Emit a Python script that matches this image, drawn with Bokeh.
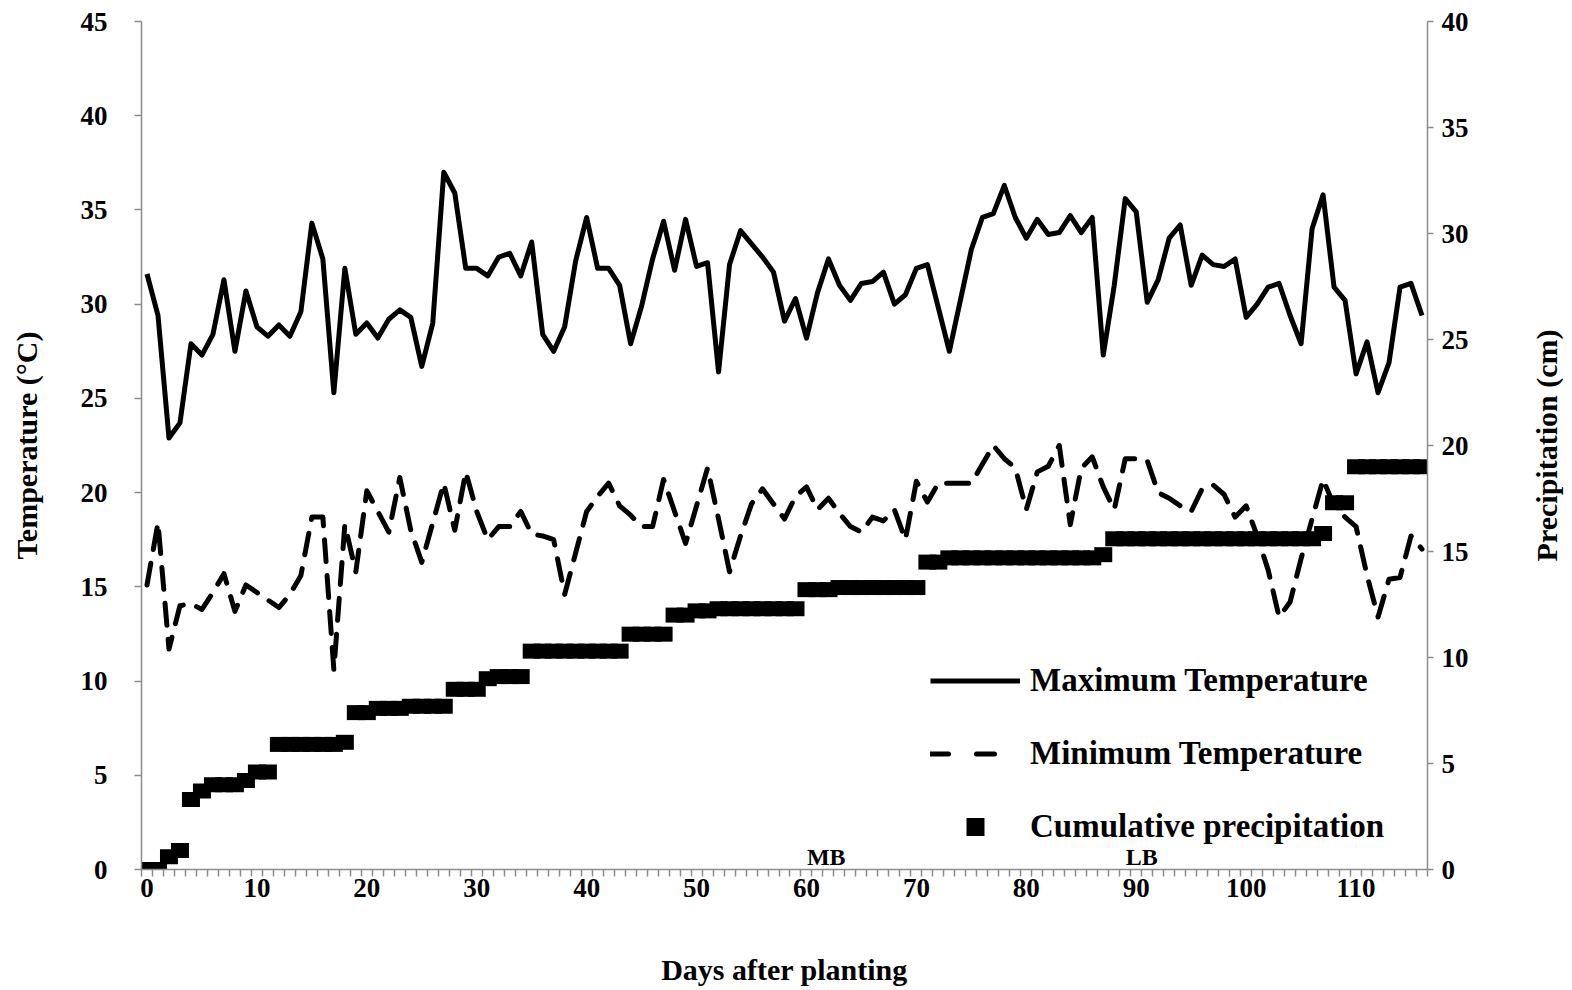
from bokeh.plotting import figure
from bokeh.layouts import row
from bokeh.models import (Range1d, LinearAxis, FixedTicker, Legend, LegendItem,
                          ColumnDataSource, Title)
from bokeh.core.properties import value
from bokeh.embed import file_html
from bokeh.resources import INLINE

# ---------------- data ----------------
days = list(range(117))

max_temp = [31.6, 29.4, 22.9, 23.7, 27.9, 27.3, 28.4, 31.3, 27.5, 30.7,
            28.8, 28.3, 28.9, 28.3, 29.6, 34.3, 32.4, 25.3, 31.9, 28.4,
            29.0, 28.2, 29.2, 29.7, 29.3, 26.7, 29.0, 37.0, 35.9, 31.9,
            31.9, 31.5, 32.5, 32.7, 31.5, 33.3, 28.4, 27.5, 28.8, 32.3,
            34.6, 31.9, 31.9, 31.0, 27.9, 29.9, 32.4, 34.4, 31.8, 34.5,
            32.0, 32.2, 26.4, 32.1, 33.9, 33.2, 32.5, 31.7, 29.1, 30.3,
            28.2, 30.6, 32.4, 31.0, 30.2, 31.1, 31.2, 31.7, 30.0, 30.5,
            31.9, 32.1, 29.8, 27.5, 30.2, 32.9, 34.6, 34.8, 36.3, 34.6,
            33.5, 34.5, 33.7, 33.8, 34.7, 33.8, 34.6, 27.3, 31.0, 35.6,
            34.9, 30.1, 31.3, 33.5, 34.2, 31.0, 32.6, 32.1, 32.0, 32.4,
            29.3, 30.0, 30.9, 31.1, 29.4, 27.9, 34.0, 35.8, 30.9, 30.2,
            26.3, 28.0, 25.3, 26.9, 30.9, 31.1, 29.4]

min_temp = [15.1, 18.4, 11.7, 14.0, 14.1, 13.8, 14.7, 15.7, 13.7, 15.1,
            14.7, 14.3, 13.9, 14.6, 15.6, 18.7, 18.7, 10.6, 18.3, 15.8,
            20.1, 19.0, 17.9, 20.8, 18.0, 16.3, 18.4, 20.5, 18.0, 21.1,
            19.0, 17.5, 18.2, 18.2, 19.0, 17.8, 17.7, 17.5, 14.6, 16.8,
            19.0, 19.8, 20.5, 19.3, 18.8, 18.2, 18.2, 20.7, 19.0, 17.3,
            19.3, 21.3, 18.6, 15.8, 17.7, 19.4, 20.2, 19.4, 18.6, 19.8,
            20.3, 19.1, 19.7, 18.9, 18.2, 17.9, 18.7, 18.5, 19.1, 17.5,
            20.6, 19.5, 20.5, 20.5, 20.5, 20.5, 21.5, 22.5, 21.8, 21.3,
            19.1, 21.1, 21.4, 22.5, 18.3, 21.3, 21.9, 20.3, 19.1, 21.8,
            21.8, 21.7, 20.0, 19.7, 19.3, 19.0, 20.2, 20.4, 19.9, 18.7,
            19.3, 17.7, 15.9, 13.4, 14.2, 16.5, 18.6, 20.7, 19.3, 18.7,
            18.2, 15.6, 13.4, 15.4, 15.5, 17.7, 17.0]

cum_precip = [0.0, 0.0, 0.6, 0.9, 3.3, 3.7, 4.0, 4.0, 4.0, 4.2,
              4.6, 4.6, 5.9, 5.9, 5.9, 5.9, 5.9, 5.9, 6.0, 7.4,
              7.4, 7.6, 7.6, 7.6, 7.7, 7.7, 7.7, 7.7, 8.5, 8.5,
              8.5, 9.0, 9.1, 9.1, 9.1, 10.3, 10.3, 10.3, 10.3, 10.3,
              10.3, 10.3, 10.3, 10.3, 11.1, 11.1, 11.1, 11.1, 12.0, 12.0,
              12.2, 12.2, 12.3, 12.3, 12.3, 12.3, 12.3, 12.3, 12.3, 12.3,
              13.2, 13.2, 13.2, 13.3, 13.3, 13.3, 13.3, 13.3, 13.3, 13.3,
              13.3, 14.5, 14.5, 14.7, 14.7, 14.7, 14.7, 14.7, 14.7, 14.7,
              14.7, 14.7, 14.7, 14.7, 14.7, 14.7, 14.7, 14.85, 15.6, 15.6,
              15.6, 15.6, 15.6, 15.6, 15.6, 15.6, 15.6, 15.6, 15.6, 15.6,
              15.6, 15.6, 15.6, 15.6, 15.6, 15.6, 15.6, 15.85, 17.3, 17.3,
              19.0, 19.0, 19.0, 19.0, 19.0, 19.0, 19.0]

x_tick_labels = [0, 10, 20, 30, 40, 50, 60, 70, 80, 90, 100, 110]
temp_ticks = [0, 5, 10, 15, 20, 25, 30, 35, 40, 45]
precip_ticks = [0, 5, 10, 15, 20, 25, 30, 35, 40]
stage_labels = ["MB", "LB"]
stage_days = [61.8, 90.5]

series_names = ["Maximum Temperature", "Minimum Temperature", "Cumulative precipitation"]

# ---------------- figure ----------------
FONT = "Liberation Serif"
AXIS_GREY = "#8c8c8c"
LW = 5
TICK_FS = "27px"

p = figure(frame_width=1286, frame_height=848,
           min_border_left=141, min_border_right=45,
           min_border_top=21, min_border_bottom=121,
           x_range=Range1d(-0.5, 116.5), y_range=Range1d(0, 45),
           output_backend="svg", toolbar_location=None)
p.extra_y_ranges = {"precip": Range1d(0, 40)}
p.xgrid.visible = False
p.ygrid.visible = False
p.outline_line_color = None
p.background_fill_color = "white"
p.border_fill_color = "white"

src = ColumnDataSource(dict(day=days, tmax=max_temp, tmin=min_temp, precip=cum_precip))

# precipitation squares
p.rect(x="day", y="precip", width=18, height=15, width_units="screen",
       height_units="screen", source=src, y_range_name="precip",
       fill_color="black", line_color=None)

# temperature lines
r_max = p.line(x="day", y="tmax", source=src, line_color="black", line_width=LW,
               line_join="round")
p.line(x="day", y="tmin", source=src, line_color="black", line_width=LW,
       line_dash="22 14", line_join="round", line_cap="round")

# stage labels
p.text(x=stage_days, y=[0 for _ in stage_days], text=stage_labels,
       text_font=value(FONT), text_font_size="24px", text_font_style="bold",
       text_align="center", text_baseline="bottom", text_color="black")

# ---------------- axes ----------------
xa = p.xaxis[0]
xa.ticker = FixedTicker(ticks=x_tick_labels,
                        minor_ticks=[d - 0.5 for d in days] + [days[-1] + 0.5])
xa.major_tick_out = 0
xa.major_tick_in = 0
xa.minor_tick_out = 7
xa.minor_tick_in = 0
xa.minor_tick_line_color = AXIS_GREY
xa.minor_tick_line_width = 1.5
xa.axis_line_color = AXIS_GREY
xa.axis_line_width = 1.5
xa.major_label_text_font = FONT
xa.major_label_text_font_size = TICK_FS
xa.major_label_text_font_style = "bold"
xa.major_label_text_color = "black"
xa.major_label_standoff = 2
xa.axis_label = "Days after planting"
xa.axis_label_text_font = FONT
xa.axis_label_text_font_size = "30px"
xa.axis_label_text_font_style = "bold"
xa.axis_label_text_color = "black"
xa.axis_label_standoff = 53

ya = p.yaxis[0]
ya.ticker = FixedTicker(ticks=temp_ticks)
ya.major_tick_out = 7
ya.major_tick_in = 0
ya.minor_tick_out = 0
ya.minor_tick_in = 0
ya.major_tick_line_color = AXIS_GREY
ya.major_tick_line_width = 1.5
ya.axis_line_color = AXIS_GREY
ya.axis_line_width = 1.5
ya.major_label_text_font = FONT
ya.major_label_text_font_size = TICK_FS
ya.major_label_text_font_style = "bold"
ya.major_label_text_color = "black"
ya.major_label_standoff = 27
ya.axis_label = "Temperature (°C)"
ya.axis_label_text_font = FONT
ya.axis_label_text_font_size = "30px"
ya.axis_label_text_font_style = "bold"
ya.axis_label_text_color = "black"
ya.axis_label_standoff = 35

ra = LinearAxis(y_range_name="precip", ticker=FixedTicker(ticks=precip_ticks))
ra.major_tick_out = 6
ra.major_tick_in = 0
ra.minor_tick_out = 0
ra.minor_tick_in = 0
ra.major_tick_line_color = AXIS_GREY
ra.major_tick_line_width = 1.5
ra.axis_line_color = AXIS_GREY
ra.axis_line_width = 1.5
ra.major_label_text_font = FONT
ra.major_label_text_font_size = TICK_FS
ra.major_label_text_font_style = "bold"
ra.major_label_text_color = "black"
ra.major_label_standoff = 8
p.add_layout(ra, "right")

# ---------------- legend ----------------
nan = float("nan")
leg_min = p.line(x=[nan], y=[nan], line_color="black", line_width=LW,
                 line_dash="18 28", line_cap="round")
leg_pr = p.scatter(x=[nan], y=[nan], marker="square", size=18,
                   fill_color="black", line_color=None, y_range_name="precip")

legend = Legend(items=[LegendItem(label=series_names[0], renderers=[r_max]),
                       LegendItem(label=series_names[1], renderers=[leg_min]),
                       LegendItem(label=series_names[2], renderers=[leg_pr])],
                location=(789, 20), orientation="vertical",
                glyph_width=90, glyph_height=45, label_height=42,
                label_standoff=10, spacing=28, padding=0, margin=0,
                border_line_color=None, background_fill_alpha=0,
                label_text_font=FONT, label_text_font_size="33px",
                label_text_font_style="bold", label_text_color="black")
p.add_layout(legend)

# ---------------- right-hand axis title (reads upward) ----------------
p2 = figure(frame_width=10, frame_height=848,
            min_border_left=90, min_border_right=0,
            min_border_top=21, min_border_bottom=121,
            x_range=Range1d(0, 1), y_range=Range1d(0, 1),
            output_backend="svg", toolbar_location=None)
p2.axis.visible = False
p2.xgrid.visible = False
p2.ygrid.visible = False
p2.outline_line_color = None
p2.background_fill_color = "white"
p2.border_fill_color = "white"
p2.add_layout(Title(text="Precipitation (cm)", align="center",
                    text_font=FONT, text_font_size="30px",
                    text_font_style="bold", text_color="black",
                    standoff=0, offset=0), "left")

layout = row(p, p2, spacing=0)

open("out.html", "w").write(file_html(layout, INLINE))
